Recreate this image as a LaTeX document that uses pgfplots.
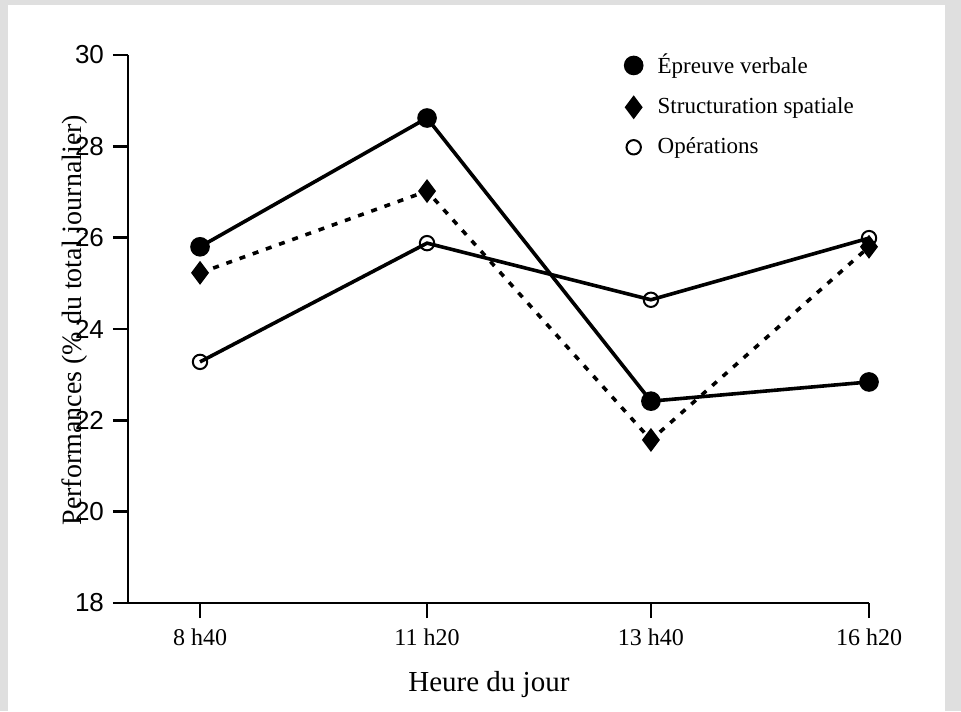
\documentclass[border=0pt]{standalone}
\usepackage{fontspec}
\setmainfont{Liberation Serif}
\newfontfamily\arial{Liberation Sans}
\usepackage{pgfplots}
\pgfplotsset{compat=1.18}
\begin{document}
\begin{tikzpicture}[x=1pt,y=1pt]
\fill[gray!25] (0,0) rectangle (480.5,355.5);
\fill[white] (4,0) rectangle (472.5,353);
\begin{axis}[
  at={(64pt,54pt)}, anchor=south west,
  scale only axis, width=370.5pt, height=274pt,
  axis x line=bottom, axis y line=left,
  axis line style={line width=1.2pt,-},
  xmin=-0.323, xmax=3, ymin=18, ymax=30,
  xtick={0,1.018,2.022,3},
  xticklabels={8 h40,11 h20,13 h40,16 h20},
  ytick={18,20,...,30},
  tick align=outside, major tick length=7.5pt,
  tick style={line width=1.2pt,black},
  /pgf/number format/assume math mode=true,
  yticklabel style={font=\arial\fontsize{13}{15}\selectfont, xshift=-1pt},
  xticklabel style={font=\fontsize{12}{14}\selectfont, yshift=-2pt},
  xlabel={Heure du jour},
  xlabel style={font=\fontsize{14.5}{16}\selectfont, at={(axis description cs:0.487,-0.148)}, anchor=center},
  ylabel={Performances (\% du total journalier)},
  ylabel style={font=\fontsize{14}{16}\selectfont, at={(axis description cs:-0.0715,0.516)}, anchor=center, rotate=0},
  legend style={draw=none, fill=none, at={(axis description cs:0.663,1.017)}, anchor=north west,
    font=\fontsize{11.5}{13}\selectfont, row sep=6.5pt, cells={anchor=west},
    /tikz/every odd column/.append style={column sep=6pt}},
  legend image post style={only marks},
  legend cell align=left,
]
\addplot[black, line width=1.8pt, mark=*, mark size=4pt, mark options={solid}]
  coordinates {(0,25.80) (1.018,28.62) (2.022,22.42) (3,22.84)};
\addlegendentry{Épreuve verbale}
\addplot[black, line width=1.8pt, dash pattern=on 3pt off 4pt, mark=diamond*, mark size=4.5pt, mark options={solid}]
  coordinates {(0,25.23) (1.018,27.02) (2.022,21.57) (3,25.80)};
\addlegendentry{Structuration spatiale}
\addplot[black, line width=1.8pt, mark=o, mark size=3.6pt, mark options={solid, fill=white, line width=1pt}]
  coordinates {(0,23.28) (1.018,25.88) (2.022,24.64) (3,25.99)};
\addlegendentry{Opérations}
\end{axis}
\end{tikzpicture}
\end{document}
